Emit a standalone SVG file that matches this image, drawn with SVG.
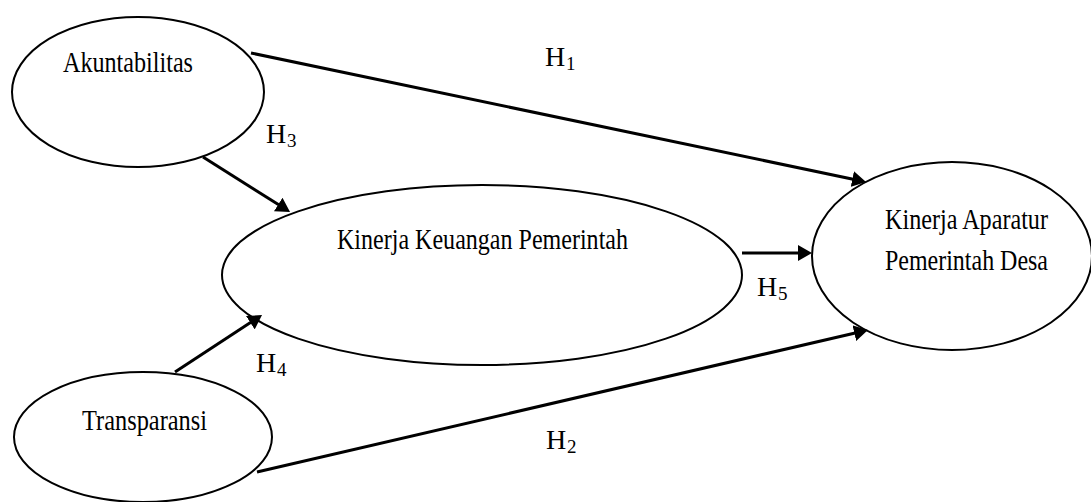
<svg xmlns="http://www.w3.org/2000/svg" width="1091" height="502" viewBox="0 0 1091 502">
<style>
.node ellipse{fill:#fff;stroke:#000;stroke-width:2}
.lbl{font-family:"Liberation Serif","Times New Roman",serif;font-size:30px;fill:#000}
.h{font-family:"Liberation Serif","Times New Roman",serif;font-size:28px;fill:#000}
.sub{font-family:"Liberation Serif","Times New Roman",serif;font-size:19px;fill:#000}
.conn line{stroke:#000;stroke-width:3;fill:none}
</style>
<defs>
<marker id="arr" viewBox="0 0 14 16" refX="2" refY="8" markerWidth="14" markerHeight="16" markerUnits="userSpaceOnUse" orient="auto">
<path d="M0,0 L14,8 L0,16 Z" fill="#000"/>
</marker>
</defs>
<rect width="1091" height="502" fill="#fff"/>
<g id="akuntabilitas" class="node">
<ellipse cx="138" cy="92" rx="126" ry="75"/>
<text class="lbl" x="63" y="72" textLength="130" lengthAdjust="spacingAndGlyphs">Akuntabilitas</text>
</g>
<g id="transparansi" class="node">
<ellipse cx="143" cy="437" rx="129" ry="65"/>
<text class="lbl" x="82" y="430" textLength="125" lengthAdjust="spacingAndGlyphs">Transparansi</text>
</g>
<g id="kinerja-keuangan" class="node">
<ellipse cx="482" cy="275" rx="260" ry="90"/>
<text class="lbl" x="337" y="249" textLength="291" lengthAdjust="spacingAndGlyphs">Kinerja Keuangan Pemerintah</text>
</g>
<g id="kinerja-aparatur" class="node">
<ellipse cx="952" cy="256" rx="140" ry="94"/>
<text class="lbl" x="885" y="229" textLength="163" lengthAdjust="spacingAndGlyphs">Kinerja Aparatur</text>
<text class="lbl" x="885" y="270" textLength="163" lengthAdjust="spacingAndGlyphs">Pemerintah Desa</text>
</g>
<g id="connectors" class="conn">
<line x1="251" y1="53" x2="854.3" y2="179.5" marker-end="url(#arr)"/>
<line x1="203" y1="157" x2="279.9" y2="205.6" marker-end="url(#arr)"/>
<line x1="175" y1="372" x2="252" y2="321.6" marker-end="url(#arr)"/>
<line x1="257" y1="472" x2="856.3" y2="332.7" marker-end="url(#arr)"/>
<line x1="742" y1="253" x2="800" y2="253" marker-end="url(#arr)"/>
</g>
<g id="labels">
<text class="h" x="545" y="66">H</text><text class="sub" x="566" y="70">1</text>
<text class="h" x="266" y="143">H</text><text class="sub" x="287" y="147">3</text>
<text class="h" x="256" y="372">H</text><text class="sub" x="277" y="376">4</text>
<text class="h" x="546" y="449">H</text><text class="sub" x="567" y="453">2</text>
<text class="h" x="757" y="296">H</text><text class="sub" x="778" y="300">5</text>
</g>
</svg>
